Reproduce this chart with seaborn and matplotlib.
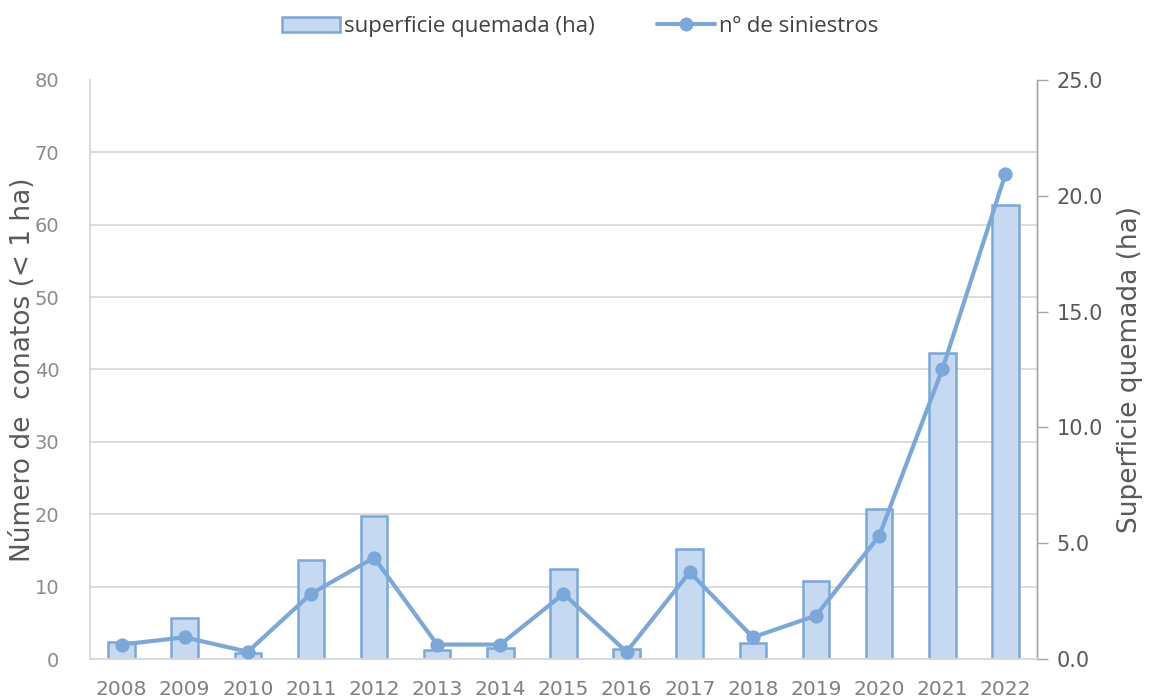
import seaborn as sns
import matplotlib.pyplot as plt
import matplotlib.patches as mpatches
import matplotlib.lines as mlines
import numpy as np
import pandas as pd

# Datos
anios = ["2008", "2009", "2010", "2011", "2012", "2013", "2014", "2015",
         "2016", "2017", "2018", "2019", "2020", "2021", "2022"]
siniestros = [2, 3, 1, 9, 14, 2, 2, 9, 1, 12, 3, 6, 17, 40, 67]
superficie = [0.73, 1.77, 0.27, 4.28, 6.18, 0.39, 0.47, 3.89, 0.43, 4.75,
              0.70, 3.37, 6.48, 13.2, 19.6]

azul = "#7BA7D9"
relleno = "#C5DAF0"
gris_claro = "#D9D9D9"

df = pd.DataFrame({"anio": anios, "siniestros": siniestros, "superficie": superficie})

sns.set_theme(style="white")
plt.rcParams["font.family"] = ["DejaVu Sans"]

fig = plt.figure(figsize=(11.49, 6.99), dpi=100)
ax = fig.add_axes([0.0783, 0.0572, 0.8242, 0.8284])  # eje de barras (escala derecha)
ax2 = ax.twinx()  # eje de la linea (escala izquierda)

# barras: superficie
sns.barplot(data=df, x="anio", y="superficie", ax=ax, color=relleno,
            width=0.42, edgecolor=azul, linewidth=1.8, saturation=1, zorder=2)
ax.set_ylim(0, 25)
ax.yaxis.tick_right()
ax.yaxis.set_label_position("right")
ax.set_yticks(np.arange(0, 25.1, 5))
ax.set_yticklabels([f"{v:.1f}" for v in np.arange(0, 25.1, 5)])
ax.set_ylabel("Superficie quemada (ha)", fontsize=19, color="#595959", labelpad=10)
ax.set_xlabel("")
ax.tick_params(axis="y", which="major", right=True, direction="out", length=8, width=1,
               color="#A6A6A6", labelsize=15, labelcolor="#595959", pad=6)
ax.tick_params(axis="x", bottom=False, labelsize=14.5, labelcolor="#808080", pad=9)
ax.set_xlim(-0.5, len(anios) - 0.5)

# lineas de rejilla (en los ticks del eje izquierdo) detras de las barras
ax.set_yticks(np.linspace(0, 25, 9), minor=True)
ax.tick_params(axis="y", which="minor", left=False, right=False, length=0)
ax.grid(True, which="minor", axis="y", color=gris_claro, linewidth=1.3, zorder=0)
ax.grid(False, which="major")
ax.set_axisbelow(True)

# linea: siniestros
sns.pointplot(data=df, x="anio", y="siniestros", ax=ax2, color=azul,
              markersize=8, linewidth=3, zorder=3)
ax2.set_ylim(0, 80)
ax2.yaxis.tick_left()
ax2.yaxis.set_label_position("left")
ax2.set_yticks(np.arange(0, 81, 10))
ax2.set_ylabel("Número de  conatos (< 1 ha)", fontsize=19, color="#595959")
ax2.yaxis.set_label_coords(-0.057, 0.5)
ax2.set_xlabel("")
ax2.tick_params(axis="y", left=False, right=False, labelsize=14, labelcolor="#8C8C8C", pad=16)
ax2.grid(False)

for a in (ax, ax2):
    a.spines["top"].set_visible(False)
    a.spines["left"].set_color(gris_claro)
    a.spines["left"].set_linewidth(1.3)
    a.spines["bottom"].set_color(gris_claro)
    a.spines["bottom"].set_linewidth(1.3)
    a.spines["right"].set_color("#A6A6A6")
    a.spines["right"].set_linewidth(1)

# leyenda superior
h_bar = mpatches.Patch(facecolor=relleno, edgecolor=azul, linewidth=1.8,
                       label="superficie quemada (ha)")
h_lin = mlines.Line2D([], [], color=azul, linewidth=3, marker="o", markersize=9,
                      label="nº de siniestros")
fig.legend(handles=[h_bar, h_lin], loc="center", bbox_to_anchor=(0.505, 0.962),
           ncol=2, frameon=False, handlelength=2.6, handletextpad=0.2,
           columnspacing=2.8,
           prop={"family": ["Liberation Sans Narrow", "Open Sans", "DejaVu Sans"], "size": 16},
           labelcolor="#404040")

fig.savefig("out.png", dpi=100)
